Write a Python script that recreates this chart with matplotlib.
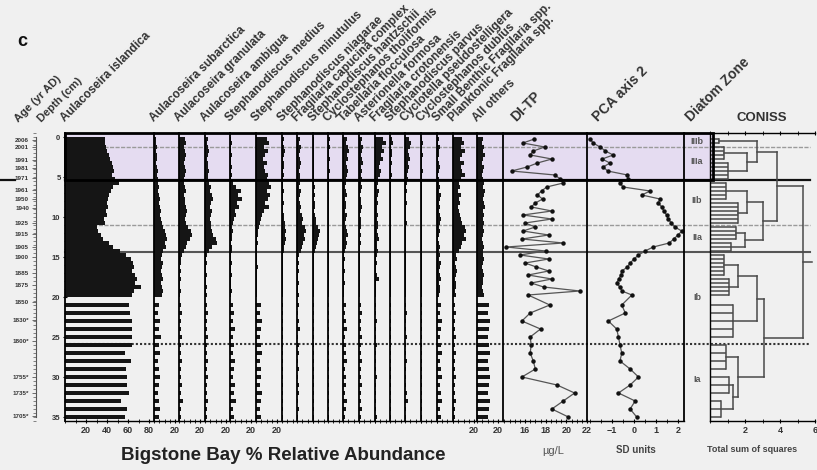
import matplotlib.pyplot as plt
import matplotlib.transforms as mtransforms
from matplotlib.patches import Rectangle
from matplotlib.lines import Line2D
from matplotlib.ticker import MultipleLocator, FixedLocator

plt.rcParams['font.family'] = ['Liberation Sans', 'DejaVu Sans']
plt.rcParams['font.weight'] = 'bold'

# --- sample depths (cm) ---
depth_cm = [0.25, 0.75, 1.25, 1.75, 2.25, 2.75, 3.25, 3.75, 4.25, 4.75,
            5.25, 5.75, 6.25, 6.75, 7.25, 7.75, 8.25, 8.75, 9.25, 9.75,
            10.25, 10.75, 11.25, 11.75, 12.25, 12.75, 13.25, 13.75, 14.25, 14.75,
            15.25, 15.75, 16.25, 16.75, 17.25, 17.75, 18.25, 18.75, 19.25, 19.75,
            21, 22, 23, 24, 25, 26, 27, 28, 29, 30, 31, 32, 33, 34, 35]

# --- % relative abundance per taxon ---
a_islandica = [38, 38, 39, 40, 42, 43, 45, 46, 47, 45, 48, 51, 46, 44, 42, 41, 40, 41, 39, 40,
               37, 38, 30, 31, 34, 36, 42, 46, 52, 58, 63, 65, 66, 64, 67, 69, 67, 72, 66, 64,
               61, 62, 64, 64, 64, 64, 57, 63, 58, 59, 59, 61, 53, 59, 57]
a_subarctica = [2, 2, 3, 2, 3, 3, 2, 3, 4, 3, 4, 4, 5, 4, 5, 6, 5, 6, 7, 6, 7, 8,
                9, 10, 11, 12, 10, 11, 9, 8, 7, 9, 8, 7, 8, 9, 7, 8, 9, 8,
                5, 4, 6, 5, 7, 5, 6, 4, 5, 6, 5, 4, 5, 6, 5]
a_granulata = [6, 7, 5, 6, 7, 6, 5, 6, 7, 6, 5, 5, 6, 7, 5, 6, 6, 7, 8, 7, 6, 7,
               9, 11, 12, 10, 8, 7, 5, 3, 2, 2, 1, 2, 1, 2, 1, 1, 2, 1,
               2, 3, 2, 2, 3, 2, 2, 3, 2, 2, 3, 2, 4, 2, 2]
a_ambigua = [3, 2, 3, 4, 3, 2, 3, 3, 4, 3, 3, 4, 6, 5, 7, 8, 6, 5, 7, 6, 5, 6,
             6, 7, 8, 10, 11, 7, 4, 2, 1, 2, 1, 1, 2, 1, 1, 2, 1, 2,
             2, 3, 2, 2, 3, 2, 2, 3, 2, 3, 2, 2, 3, 2, 2]
s_medius = [1, 2, 1, 1, 2, 1, 1, 2, 1, 2, 1, 3, 6, 10, 8, 11, 7, 9, 5, 6, 4, 3,
            2, 3, 2, 2, 1, 2, 2, 1, 1, 2, 1, 1, 2, 1, 1, 1, 2, 1,
            3, 4, 3, 5, 3, 4, 3, 5, 4, 3, 5, 4, 6, 3, 4]
s_minutulus = [10, 12, 8, 11, 9, 7, 10, 8, 9, 11, 10, 12, 14, 10, 13, 11, 9, 12, 8, 6, 5, 4,
               3, 2, 2, 1, 2, 1, 1, 1, 1, 1, 2, 1, 1, 1, 1, 1, 1, 1,
               5, 4, 6, 5, 4, 5, 6, 4, 5, 5, 4, 6, 5, 4, 5]
s_niagarae = [2, 1, 2, 3, 2, 1, 2, 2, 1, 2, 1, 1, 1, 2, 1, 1, 2, 1, 1, 2, 2, 3,
              3, 4, 3, 4, 3, 2, 2, 1, 1, 0.5, 1, 1, 0.5, 1, 1, 0.5, 1, 1,
              1, 0.5, 1, 1, 0.5, 1, 1, 0.5, 1, 1, 0.5, 1, 1, 0.5, 1]
f_capucina = [3, 2, 4, 3, 2, 3, 4, 3, 2, 3, 3, 3, 2, 4, 3, 2, 3, 4, 3, 5, 6, 5,
              8, 9, 7, 8, 6, 5, 4, 2, 1, 2, 1, 2, 1, 1, 2, 1, 1, 2,
              2, 1, 2, 3, 1, 2, 2, 1, 2, 1, 2, 2, 1, 2, 1]
s_hantzschii = [1, 0.5, 1, 0.5, 1, 1, 0.5, 1, 0.5, 1, 1, 1, 2, 1, 2, 1, 2, 2, 1, 2, 3, 3,
                5, 7, 6, 5, 4, 3, 2, 1, 1, 0.5, 1, 1, 1, 0.5, 1, 1, 1, 0.5,
                1, 0.5, 1, 1, 0.5, 1, 1, 0.5, 1, 1, 0.5, 1, 0.5, 1, 1]
c_tholiformis = [2, 1, 2, 1, 1, 2, 1, 1, 2, 1, 1, 1, 1, 0.5, 1, 1, 0.5, 1, 1, 1, 0.5, 1,
                 1, 1, 0.5, 1, 1, 0.5, 1, 0.5, 1, 0.5, 0.5, 1, 0.5, 0.5, 1, 0.5, 0.5, 0.5,
                 0.5, 1, 0.5, 1, 0.5, 1, 0.5, 1, 0.5, 1, 1, 0.5, 1, 0.5, 1]
t_flocculosa = [4, 3, 5, 6, 4, 5, 3, 4, 5, 4, 3, 3, 2, 3, 4, 2, 3, 3, 2, 4, 3, 2,
                3, 4, 5, 3, 4, 3, 2, 1, 2, 1, 1, 2, 1, 1, 2, 1, 1, 1,
                3, 2, 3, 4, 2, 3, 3, 4, 2, 3, 3, 2, 4, 3, 2]
a_formosa = [3, 2, 4, 3, 2, 3, 4, 2, 3, 2, 3, 2, 3, 2, 1, 2, 2, 3, 2, 1, 2, 2,
             2, 1, 2, 1, 2, 1, 1, 1, 1, 1, 0.5, 1, 1, 0.5, 1, 1, 1, 0.5,
             2, 3, 2, 2, 3, 2, 2, 3, 2, 2, 3, 2, 2, 3, 2]
f_crotonensis = [8, 10, 7, 9, 6, 8, 5, 4, 6, 5, 3, 3, 2, 4, 3, 2, 3, 2, 2, 3, 2, 3,
                 3, 2, 3, 4, 2, 2, 3, 2, 1, 2, 1, 1, 2, 4, 1, 1, 1, 1,
                 1, 1, 2, 1, 1, 2, 1, 1, 1, 2, 1, 1, 1, 1, 2]
s_parvus = [2, 3, 1, 2, 2, 1, 2, 1, 1, 2, 1, 0.5, 1, 0.5, 0.5, 1, 0.5, 0.5, 1, 0.5, 0.5, 0.5,
            0.5, 0.5, 1, 0.5, 0.5, 0.5, 0.5, 0.5, 0.5, 0.5, 1, 0.5, 0.5, 0.5, 0.5, 1, 0.5, 0.5,
            0.5, 0.5, 1, 0.5, 0.5, 0.5, 1, 0.5, 0.5, 0.5, 0.5, 1, 0.5, 0.5, 0.5]
c_pseudostelligera = [4, 6, 5, 3, 4, 5, 3, 4, 3, 2, 3, 2, 1, 2, 1, 1, 2, 1, 1, 1, 1, 2,
                      1, 1, 1, 0.5, 1, 1, 1, 1, 0.5, 1, 1, 0.5, 1, 1, 0.5, 1, 1, 0.5,
                      1, 2, 1, 1, 2, 1, 1, 2, 1, 1, 1, 2, 3, 1, 1]
c_dubius = [1, 2, 1, 1, 2, 1, 1, 1, 2, 1, 1, 1, 0.5, 1, 0.5, 1, 0.5, 0.5, 1, 0.5, 1, 0.5,
            0.5, 0.5, 1, 0.5, 0.5, 1, 0.5, 1, 0.5, 1, 1, 0.5, 1, 0.5, 1, 1, 0.5, 1,
            1, 0.5, 1, 0.5, 1, 1, 0.5, 1, 0.5, 1, 0.5, 1, 0.5, 1, 0.5]
small_benthic_frag = [2, 1, 3, 2, 2, 1, 2, 3, 2, 1, 2, 2, 3, 2, 4, 3, 2, 3, 2, 3, 4, 3,
                      2, 3, 2, 1, 2, 3, 2, 3, 2, 4, 3, 2, 3, 4, 2, 3, 3, 2,
                      4, 3, 5, 4, 3, 4, 5, 3, 4, 5, 3, 4, 5, 3, 4]
planktonic_frag = [9, 10, 8, 11, 9, 7, 10, 8, 9, 11, 8, 6, 7, 5, 8, 6, 7, 5, 6, 7, 8, 9,
                   11, 12, 10, 12, 9, 8, 6, 3, 4, 2, 3, 4, 3, 2, 3, 3, 2, 3,
                   2, 3, 2, 2, 3, 2, 3, 2, 2, 3, 2, 2, 3, 2, 2]
all_others = [6, 5, 7, 6, 8, 6, 5, 7, 6, 5, 6, 7, 6, 8, 7, 6, 7, 8, 6, 7, 6, 7,
              6, 7, 6, 5, 6, 7, 6, 6, 7, 6, 5, 6, 7, 6, 6, 5, 6, 7,
              11, 10, 12, 11, 10, 11, 12, 10, 11, 12, 11, 10, 12, 11, 10]

taxa_names = ['Aulacoseira islandica', 'Aulacoseira subarctica', 'Aulacoseira granulata',
              'Aulacoseira ambigua', 'Stephanodiscus medius', 'Stephanodiscus minutulus',
              'Stephanodiscus niagarae', 'Fragilaria capucina complex', 'Stephanodiscus hantzschii',
              'Cyclostephanos tholiformis', 'Tabellaria flocculosa', 'Asterionella formosa',
              'Fragilaria crotonensis', 'Stephanodiscus parvus', 'Cyclotella pseudostelligera',
              'Cyclostephanos dubius', 'Small Benthic Fragilaria spp.', 'Planktonic Fragilaria spp.',
              'All others']
taxa_values = [a_islandica, a_subarctica, a_granulata, a_ambigua, s_medius, s_minutulus,
               s_niagarae, f_capucina, s_hantzschii, c_tholiformis, t_flocculosa, a_formosa,
               f_crotonensis, s_parvus, c_pseudostelligera, c_dubius, small_benthic_frag,
               planktonic_frag, all_others]

# --- inferred TP (ug/L) and PCA axis 2 scores ---
di_tp = [16.9, 15.8, 17.9, 16.8, 16.5, 18.6, 17.2, 16.2, 14.7, 18.9,
         19.4, 19.7, 18.1, 17.6, 17.2, 17.7, 17.0, 16.6, 18.6, 15.8,
         18.6, 16.0, 17.0, 15.8, 18.3, 15.7, 19.7, 14.2, 18.0, 15.5,
         18.3, 16.0, 17.1, 18.3, 16.3, 18.6, 16.6, 17.8, 21.3, 16.3,
         18.4, 16.5, 15.7, 17.5, 16.5, 16.6, 16.5, 16.8, 17.0, 15.7,
         19.1, 20.8, 19.7, 18.6, 20.2]
pca_axis2 = [-2.0, -1.86, -1.55, -1.3, -0.95, -1.45, -1.1, -1.4, -1.2, -0.3,
             -0.27, -0.64, -0.5, 0.73, 0.35, 1.18, 1.1, 1.26, 1.35, 1.48,
             1.55, 1.7, 1.85, 2.17, 2.0, 1.8, 1.6, 0.87, 0.5, 0.2,
             0.0, -0.18, -0.3, -0.56, -0.6, -0.7, -0.79, -0.65, -0.55, -0.1,
             -0.56, -0.4, -1.17, -0.79, -0.71, -0.64, -0.56, -0.64, -0.18, 0.2,
             -0.18, -0.71, 0.05, -0.18, 0.12]

# --- chronology ---
age_depth = [0.4, 1.25, 2.9, 3.9, 5.1, 6.6, 7.75, 8.9, 10.75, 12.1,
             13.75, 15.0, 17.0, 18.5, 20.6, 22.9, 25.5, 30.0, 32.0, 34.9]
age_label = ['2006', '2001', '1991', '1981', '1971', '1961', '1950', '1940', '1925', '1915',
             '1905', '1900', '1885', '1875', '1850', '1830*', '1800*', '1755*', '1735*', '1705*']

# --- diatom zones ---
zone_name = ['IIIb', 'IIIa', 'IIb', 'IIa', 'Ib', 'Ia']
zone_label_depth = [0.6, 3.1, 7.9, 12.6, 20.0, 30.25]
zone_bounds = [1.25, 5.375, 11.0, 14.375, 25.9]

# --- CONISS: leaf groups (first, last, height) and merges (id_a, id_b, height) ---
coniss_groups = [(0, 1, 0.5), (2, 5, 0.8), (6, 10, 1.0), (11, 15, 0.9), (16, 21, 1.6),
                 (22, 25, 1.5), (26, 28, 1.2), (29, 34, 0.8), (35, 39, 1.1), (40, 44, 1.3),
                 (45, 48, 0.9), (49, 51, 1.1), (52, 54, 0.6)]
coniss_merges = [(1, 2, 2.1), (0, 13, 2.7), (3, 4, 2.1), (5, 6, 2.0), (15, 16, 3.0),
                 (14, 17, 3.8), (7, 8, 1.6), (19, 9, 2.7), (11, 12, 1.3), (10, 21, 1.6),
                 (20, 22, 3.1), (18, 23, 5.3)]

# ---------------- drawing ----------------
W, H = 817, 470
TOP, BOT = 133, 421
fig = plt.figure(figsize=(W / 100, H / 100), dpi=100)
fig.patch.set_facecolor('#f0f0f0')
TXT = '#333333'


def add_panel(x0, x1):
    ax = fig.add_axes([x0 / W, 1 - BOT / H, (x1 - x0) / W, (BOT - TOP) / H])
    ax.set_facecolor('none')
    ax.set_ylim(35.5, -0.5)
    ax.spines['top'].set_visible(False)
    ax.spines['right'].set_visible(False)
    ax.spines['left'].set_linewidth(1.3)
    ax.spines['bottom'].set_linewidth(1.0)
    ax.set_yticks([])
    ax.tick_params(axis='x', which='major', direction='inout', length=3.5, width=0.8,
                   labelsize=6.5, labelcolor=TXT, pad=2)
    ax.tick_params(axis='x', which='minor', direction='inout', length=2.2, width=0.6)
    return ax


# taxa panels (pixel edges)
edges = [65, 154, 179, 205, 230, 256, 282, 297, 313, 328, 343, 359, 375, 390, 405, 421,
         437, 453, 477, 503]
PX_PER_PCT = 1.05
axes_taxa = []
for i, (name, vals) in enumerate(zip(taxa_names, taxa_values)):
    ax = add_panel(edges[i], edges[i + 1])
    ax.set_xlim(0, (edges[i + 1] - edges[i]) / PX_PER_PCT)
    ax.barh(depth_cm, vals, height=0.48, color='#151515', linewidth=0, zorder=2)
    if i == 0:
        ax.xaxis.set_major_locator(FixedLocator([20, 40, 60, 80]))
        ax.xaxis.set_minor_locator(MultipleLocator(10))
        ax.yaxis.set_major_locator(MultipleLocator(5))
        ax.yaxis.set_minor_locator(MultipleLocator(1))
        ax.tick_params(axis='y', which='major', direction='inout', length=3.5, width=0.8,
                       labelsize=5.5, labelcolor=TXT, pad=1.5)
        ax.tick_params(axis='y', which='minor', direction='inout', length=2, width=0.5)
    else:
        ax.xaxis.set_major_locator(FixedLocator([20]))
        ax.xaxis.set_minor_locator(MultipleLocator(5))
    axes_taxa.append(ax)
ax_isl = axes_taxa[0]

# age axis
ax_age = fig.add_axes([36 / W, 1 - BOT / H, 2 / W, (BOT - TOP) / H])
ax_age.set_facecolor('none')
ax_age.set_ylim(35.5, -0.5)
for s in ['top', 'right', 'bottom']:
    ax_age.spines[s].set_visible(False)
ax_age.spines['left'].set_bounds(0, 35)
ax_age.spines['left'].set_color('#555555')
ax_age.spines['left'].set_linewidth(0.8)
ax_age.set_xticks([])
ax_age.set_yticks(age_depth, labels=age_label)
ax_age.yaxis.set_minor_locator(MultipleLocator(0.5))
ax_age.tick_params(axis='y', which='major', direction='out', length=3, width=0.6,
                   labelsize=4.5, labelcolor=TXT, pad=2, color='#555555')
ax_age.tick_params(axis='y', which='minor', direction='out', length=2, width=0.5, color='#555555')

# DI-TP
ax_tp = add_panel(503, 587)
ax_tp.set_xlim(13.87, 22)
ax_tp.plot(di_tp, depth_cm, '-o', color='#555555', lw=0.9, ms=2.2, mfc='#111111',
           mec='#111111', zorder=3)
ax_tp.xaxis.set_major_locator(FixedLocator([16, 18, 20, 22]))
ax_tp.xaxis.set_minor_locator(MultipleLocator(0.5))

# PCA axis 2
ax_pca = add_panel(587, 684)
ax_pca.set_xlim(-2.14, 2.27)
ax_pca.plot(pca_axis2, depth_cm, '-o', color='#555555', lw=0.9, ms=2.2, mfc='#111111',
            mec='#111111', zorder=3)
ax_pca.xaxis.set_major_locator(FixedLocator([-1, 0, 1, 2]))
ax_pca.xaxis.set_minor_locator(MultipleLocator(0.5))

# diatom zones
ax_zone = add_panel(684, 710)
ax_zone.set_xlim(0, 1)
ax_zone.spines['bottom'].set_visible(False)
ax_zone.set_xticks([])
for nm, d in zip(zone_name, zone_label_depth):
    ax_zone.text(0.5, d, nm, ha='center', va='center', fontsize=6.5, color='#555555')

# CONISS
ax_c = add_panel(710, 815)
ax_c.set_xlim(0, 6)
ax_c.spines['top'].set_visible(True)
ax_c.spines['top'].set_linewidth(1.0)
ax_c.spines['left'].set_linewidth(1.0)
ax_c.xaxis.set_major_locator(FixedLocator([2, 4, 6]))
ax_c.xaxis.set_minor_locator(MultipleLocator(1))
ax_c.tick_params(axis='x', which='both', top=True, labeltop=False)
dcol = '#4a4a4a'
nodes = []
for a, b, h in coniss_groups:
    ys = depth_cm[a:b + 1]
    for y in ys:
        ax_c.plot([0, h], [y, y], color=dcol, lw=1.1, solid_capstyle='butt')
    ax_c.plot([h, h], [ys[0], ys[-1]], color=dcol, lw=1.1)
    nodes.append(((ys[0] + ys[-1]) / 2, h))
for l, r, h in coniss_merges:
    (yl, hl), (yr, hr) = nodes[l], nodes[r]
    ax_c.plot([hl, h], [yl, yl], color=dcol, lw=1.1)
    ax_c.plot([hr, h], [yr, yr], color=dcol, lw=1.1)
    ax_c.plot([h, h], [yl, yr], color=dcol, lw=1.1)
    nodes.append(((yl + yr) / 2, h))
root_y, root_h = nodes[-1]
ax_c.plot([root_h, 5.85], [root_y, root_y], color=dcol, lw=1.1)

# shaded zone III box and zone boundary lines across the panels
trans = mtransforms.blended_transform_factory(fig.transFigure, ax_isl.transData)
fig.add_artist(Rectangle((65 / W, -0.5), (713 - 65) / W, zone_bounds[1] + 0.5, transform=trans,
                         facecolor='#e5dcf1', edgecolor='none', zorder=-2))
line_styles = [dict(color='#9a9a9a', lw=1.0, ls=(0, (3, 1))),
               dict(color='#111111', lw=1.6, ls='-'),
               dict(color='#9a9a9a', lw=1.0, ls=(0, (3, 1))),
               dict(color='#555555', lw=1.5, ls='-'),
               dict(color='#333333', lw=1.5, ls=(0, (1, 1)))]
for d, st in zip(zone_bounds, line_styles):
    fig.add_artist(Line2D([65 / W, 810 / W], [d, d], transform=trans, zorder=-1, **st))
fig.add_artist(Line2D([0, 15 / W], [zone_bounds[1]] * 2, transform=trans, color='#111111',
                      lw=1.6, zorder=-1))
fig.add_artist(Rectangle((65 / W, -0.5), (713 - 65) / W, zone_bounds[1] + 0.5, transform=trans,
                         fill=False, edgecolor='black', lw=2, zorder=5))

# rotated headers
HY = 1 - 124 / H
fig.text(20 / W, HY, 'Age (yr AD)', rotation=45, rotation_mode='anchor', ha='left',
         va='bottom', fontsize=8, color=TXT)
fig.text(43 / W, HY, 'Depth (cm)', rotation=45, rotation_mode='anchor', ha='left',
         va='bottom', fontsize=8, color=TXT)
for i, name in enumerate(taxa_names):
    fig.text((edges[i] + 2) / W, HY, name, rotation=45, rotation_mode='anchor', ha='left',
             va='bottom', fontsize=8.5, color=TXT)
for xp, lab in [(518, 'DI-TP'), (600, 'PCA axis 2'), (693, 'Diatom Zone')]:
    fig.text(xp / W, HY, lab, rotation=45, rotation_mode='anchor', ha='left', va='bottom',
             fontsize=10, color=TXT)
fig.text(762 / W, 1 - 118 / H, 'CONISS', ha='center', va='center', fontsize=9.5, color=TXT)
fig.text(22 / W, 1 - 42 / H, 'c', ha='center', va='center', fontsize=13, color='#111111')

# bottom captions
fig.text(283 / W, 1 - 455 / H, 'Bigstone Bay % Relative Abundance', ha='center', va='center',
         fontsize=13.5, color='#222222')
fig.text(553 / W, 1 - 451 / H, 'µg/L', ha='center', va='center', fontsize=8,
         fontweight='normal', color='#555555')
fig.text(636 / W, 1 - 450 / H, 'SD units', ha='center', va='center', fontsize=7, color='#444444')
fig.text(707 / W, 1 - 450 / H, 'Total sum of squares', ha='left', va='center', fontsize=6.5,
         color='#444444')

fig.savefig('out.png', dpi=100, facecolor=fig.get_facecolor())
